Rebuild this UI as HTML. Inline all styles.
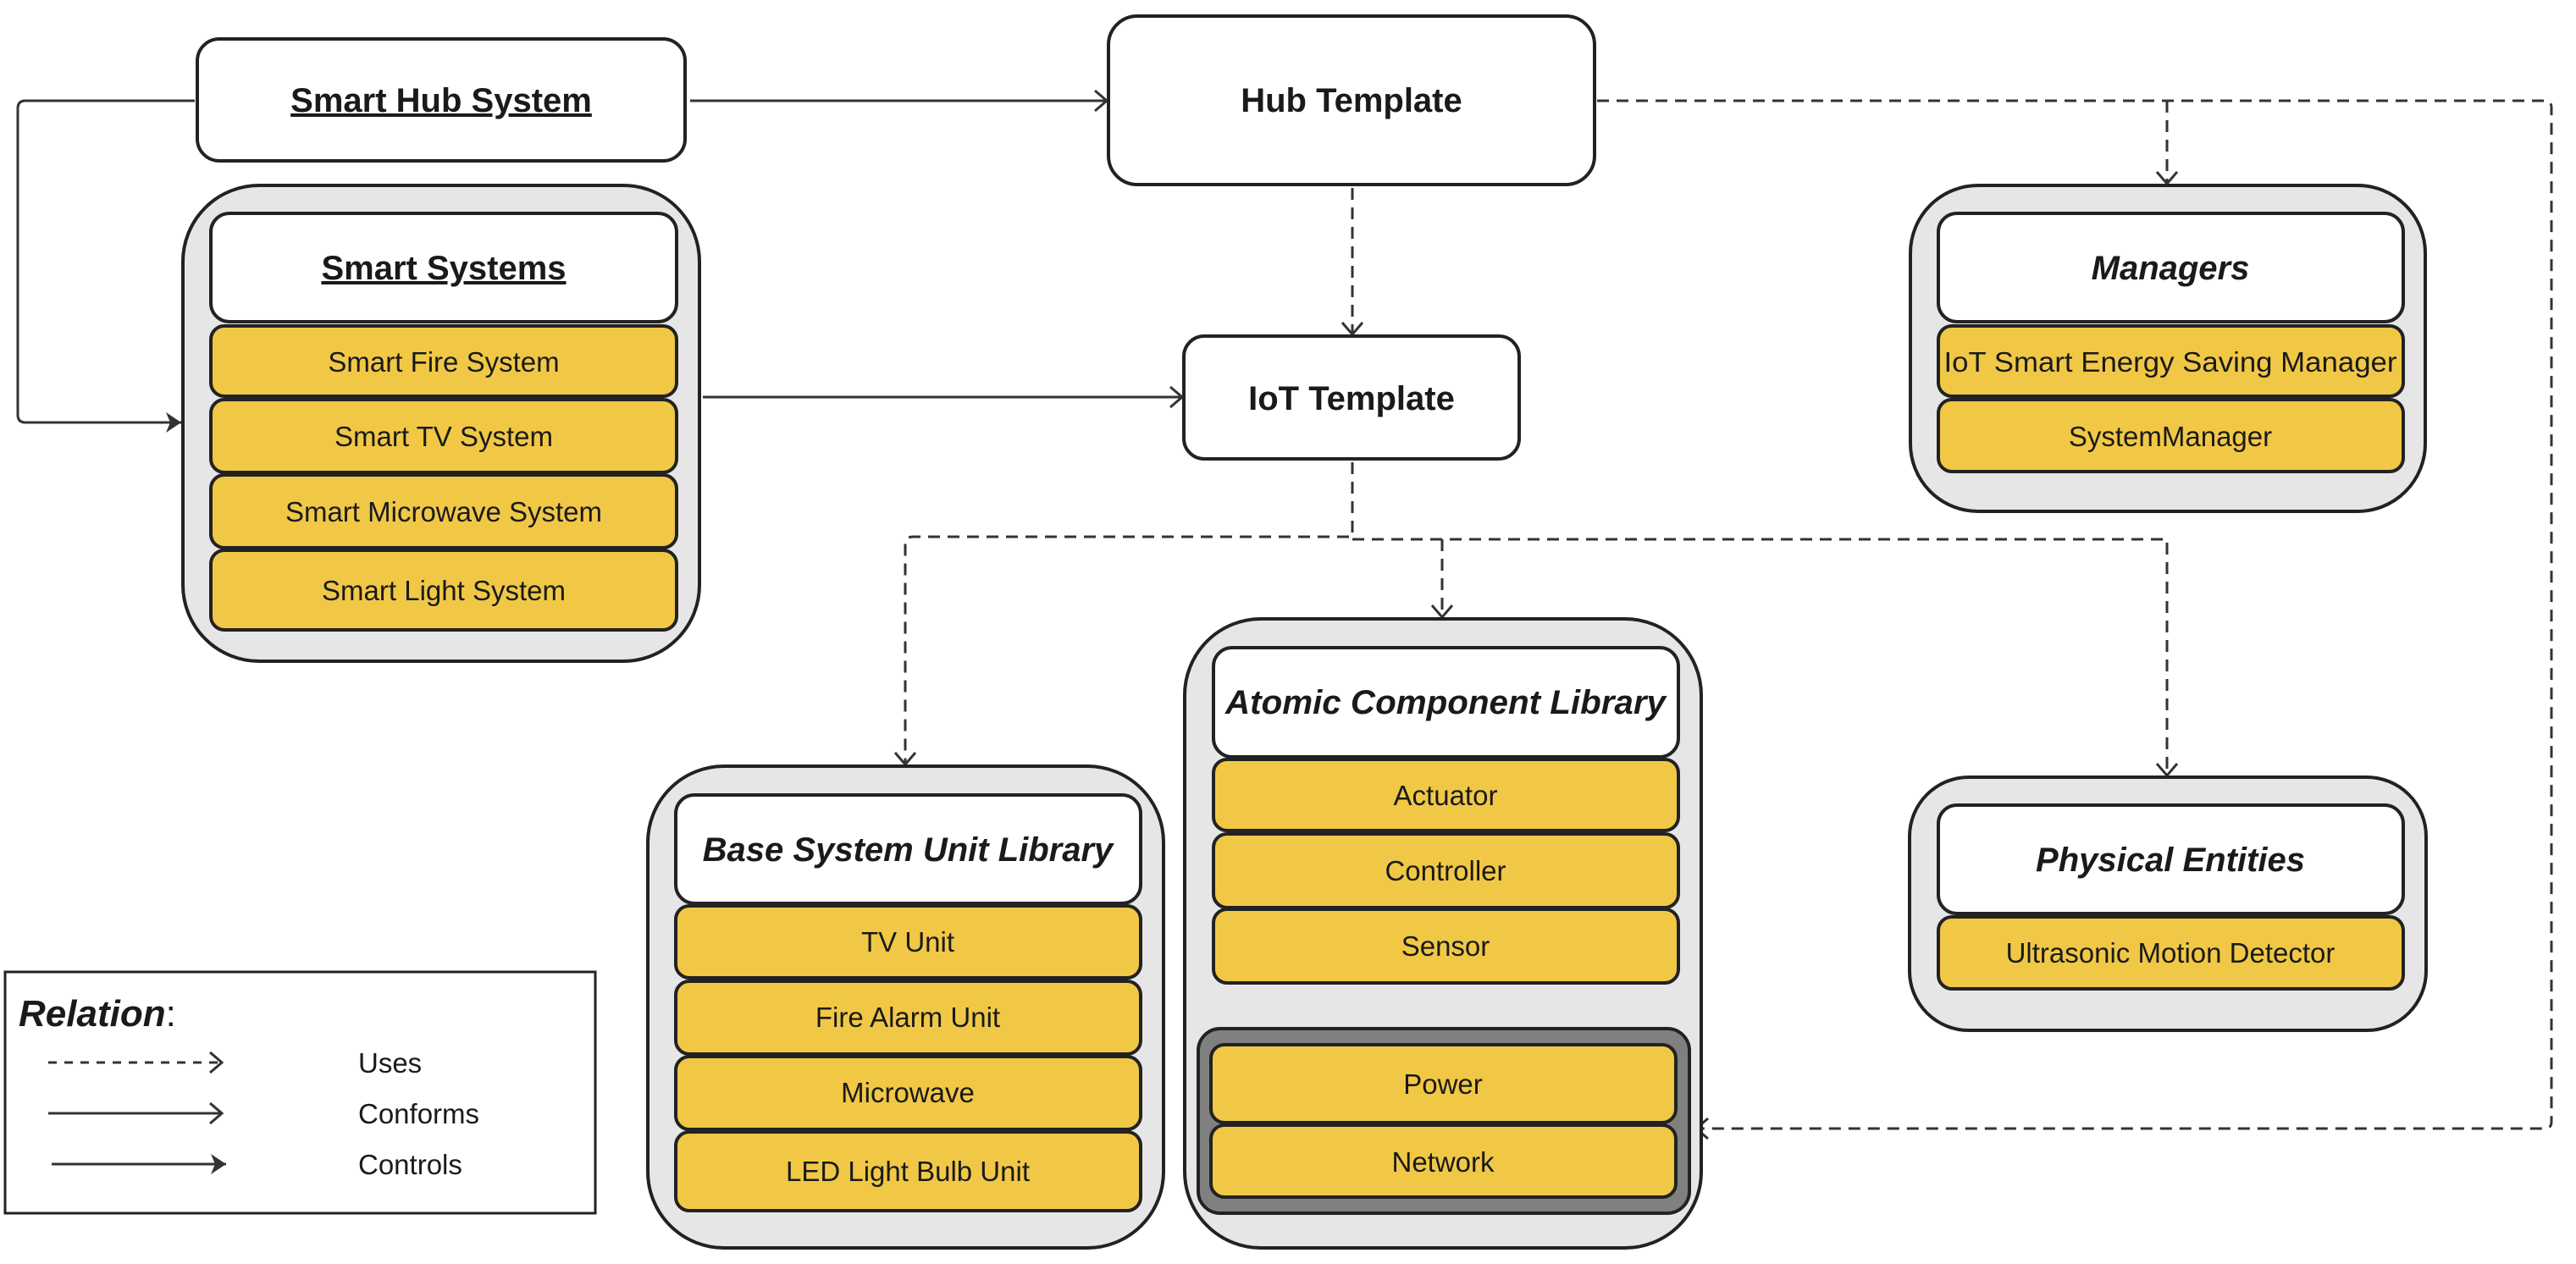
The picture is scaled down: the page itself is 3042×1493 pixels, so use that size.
<!DOCTYPE html>
<html><head><meta charset="utf-8"><style>
html,body{margin:0;padding:0;background:#fff}
svg{display:block}
text{font-family:"Liberation Sans",sans-serif;fill:#1a1a1a}
.t{font-size:40px;font-weight:bold}
.r{font-size:33px}
.box{stroke:#222;stroke-width:4}
</style></head><body>
<svg width="3042" height="1493" viewBox="0 0 3042 1493" xmlns="http://www.w3.org/2000/svg">
<defs>
<marker id="op" markerWidth="30" markerHeight="30" refX="22" refY="15" orient="auto" markerUnits="userSpaceOnUse"><path d="M8,3 L22,15 L8,27" fill="none" stroke="#333" stroke-width="3"/></marker>
<marker id="fl" markerWidth="30" markerHeight="30" refX="24" refY="15" orient="auto" markerUnits="userSpaceOnUse"><path d="M6,3 L24,15 L6,27 L11,15 Z" fill="#333"/></marker>
</defs>
<g fill="none" stroke="#333" stroke-width="3">
<path d="M230,119 H30 Q21,119 21,128 V490 Q21,499 30,499 H214" marker-end="url(#fl)"/>
<path d="M815,119 H1307" marker-end="url(#op)"/>
<path d="M830,469 H1396" marker-end="url(#op)"/>
<g stroke-dasharray="14,9">
<path d="M1597,222 V395" marker-end="url(#op)"/>
<path d="M1886,119 H3005 Q3013,119 3013,127 V1325 Q3013,1333 3005,1333 H2003" marker-end="url(#op)"/>
<path d="M2559,119 V217" marker-end="url(#op)"/>
<path d="M1597,546 V634 H1078 Q1069,634 1069,643 V903" marker-end="url(#op)"/>
<path d="M1597,637 H2559 V916" marker-end="url(#op)"/>
<path d="M1703,637 V729" marker-end="url(#op)"/>
</g>
</g>
<rect class="box" x="233" y="46" width="576" height="144" rx="26" fill="#fff"/>
<text class="t" x="521" y="132" text-anchor="middle" text-decoration="underline">Smart Hub System</text>
<rect class="box" x="1309" y="19" width="574" height="199" rx="34" fill="#fff"/>
<text class="t" x="1596" y="132" text-anchor="middle">Hub Template</text>
<rect class="box" x="1398" y="397" width="396" height="145" rx="24" fill="#fff"/>
<text class="t" x="1596" y="484" text-anchor="middle">IoT Template</text>
<rect class="box" x="216" y="219" width="610" height="562" rx="90" fill="#e6e6e6"/>
<rect class="box" x="249" y="252" width="550" height="128" rx="22" fill="#fff"/>
<text class="t" x="524" y="330" text-anchor="middle" text-decoration="underline">Smart Systems</text>
<g fill="#f1c846">
<rect class="box" x="249" y="385" width="550" height="83" rx="16"/>
<rect class="box" x="249" y="472" width="550" height="86" rx="16"/>
<rect class="box" x="249" y="561" width="550" height="86" rx="16"/>
<rect class="box" x="249" y="650" width="550" height="94" rx="16"/>
</g>
<text class="r" x="524" y="439" text-anchor="middle">Smart Fire System</text>
<text class="r" x="524" y="527" text-anchor="middle">Smart TV System</text>
<text class="r" x="524" y="616" text-anchor="middle">Smart Microwave System</text>
<text class="r" x="524" y="709" text-anchor="middle">Smart Light System</text>
<rect class="box" x="2256" y="219" width="608" height="385" rx="80" fill="#e6e6e6"/>
<rect class="box" x="2289" y="252" width="549" height="128" rx="22" fill="#fff"/>
<text class="t" x="2563" y="330" text-anchor="middle" font-style="italic">Managers</text>
<rect class="box" x="2289" y="385" width="549" height="83" rx="16" fill="#f1c846"/>
<rect class="box" x="2289" y="472" width="549" height="85" rx="16" fill="#f1c846"/>
<text class="r" x="2563" y="439" text-anchor="middle" textLength="535" lengthAdjust="spacingAndGlyphs">IoT Smart Energy Saving Manager</text>
<text class="r" x="2563" y="527" text-anchor="middle">SystemManager</text>
<rect class="box" x="765" y="905" width="609" height="569" rx="90" fill="#e6e6e6"/>
<rect class="box" x="798" y="939" width="549" height="128" rx="22" fill="#fff"/>
<text class="t" x="1072" y="1017" text-anchor="middle" font-style="italic">Base System Unit Library</text>
<g fill="#f1c846">
<rect class="box" x="798" y="1070" width="549" height="85" rx="16"/>
<rect class="box" x="798" y="1159" width="549" height="86" rx="16"/>
<rect class="box" x="798" y="1248" width="549" height="86" rx="16"/>
<rect class="box" x="798" y="1337" width="549" height="93" rx="16"/>
</g>
<text class="r" x="1072" y="1124" text-anchor="middle">TV Unit</text>
<text class="r" x="1072" y="1213" text-anchor="middle">Fire Alarm Unit</text>
<text class="r" x="1072" y="1302" text-anchor="middle">Microwave</text>
<text class="r" x="1072" y="1395" text-anchor="middle">LED Light Bulb Unit</text>
<rect class="box" x="1399" y="731" width="610" height="743" rx="90" fill="#e6e6e6"/>
<rect class="box" x="1433" y="765" width="549" height="129" rx="22" fill="#fff"/>
<text class="t" x="1707" y="843" text-anchor="middle" font-style="italic" textLength="520" lengthAdjust="spacingAndGlyphs">Atomic Component Library</text>
<g fill="#f1c846">
<rect class="box" x="1433" y="897" width="549" height="84" rx="16"/>
<rect class="box" x="1433" y="985" width="549" height="87" rx="16"/>
<rect class="box" x="1433" y="1074" width="549" height="87" rx="16"/>
</g>
<text class="r" x="1707" y="951" text-anchor="middle">Actuator</text>
<text class="r" x="1707" y="1040" text-anchor="middle">Controller</text>
<text class="r" x="1707" y="1129" text-anchor="middle">Sensor</text>
<rect class="box" x="1415" y="1215" width="580" height="218" rx="26" fill="#808080"/>
<rect class="box" x="1430" y="1234" width="549" height="92" rx="16" fill="#f1c846"/>
<rect class="box" x="1430" y="1329" width="549" height="85" rx="16" fill="#f1c846"/>
<text class="r" x="1704" y="1292" text-anchor="middle">Power</text>
<text class="r" x="1704" y="1384" text-anchor="middle">Network</text>
<rect class="box" x="2255" y="918" width="610" height="299" rx="70" fill="#e6e6e6"/>
<rect class="box" x="2289" y="951" width="549" height="128" rx="22" fill="#fff"/>
<text class="t" x="2563" y="1029" text-anchor="middle" font-style="italic">Physical Entities</text>
<rect class="box" x="2289" y="1083" width="549" height="85" rx="16" fill="#f1c846"/>
<text class="r" x="2563" y="1137" text-anchor="middle">Ultrasonic Motion Detector</text>
<rect x="6" y="1148" width="697" height="285" fill="#fff" stroke="#222" stroke-width="3"/>
<text x="22" y="1212" style="font-size:44px;font-weight:bold;font-style:italic">Relation<tspan font-weight="normal" font-style="normal">:</tspan></text>
<g fill="none" stroke="#333" stroke-width="3">
<path d="M57,1255 H262" stroke-dasharray="10,9" marker-end="url(#op)"/>
<path d="M57,1315 H262" marker-end="url(#op)"/>
<path d="M61,1375 H267" marker-end="url(#fl)"/>
</g>
<text class="r" x="423" y="1267">Uses</text>
<text class="r" x="423" y="1327">Conforms</text>
<text class="r" x="423" y="1387">Controls</text>
</svg>
</body></html>
